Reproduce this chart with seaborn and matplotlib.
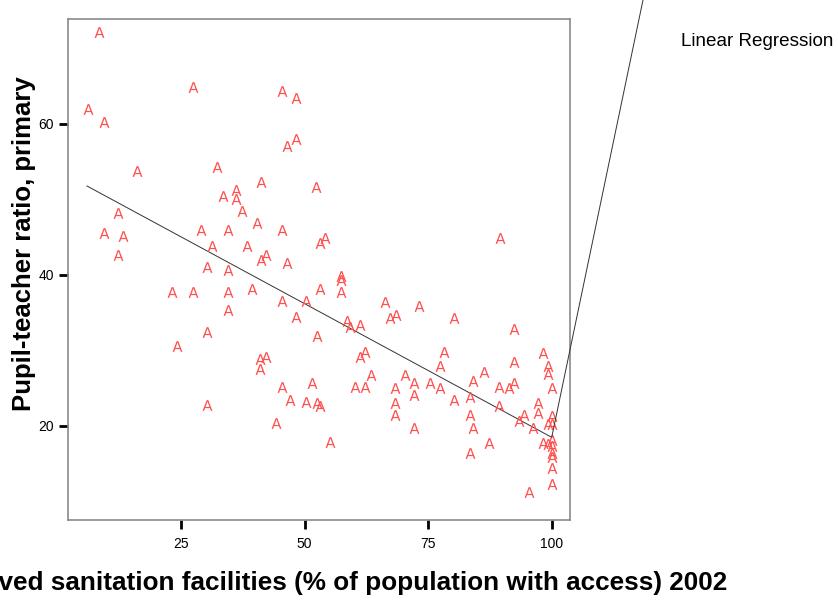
import matplotlib
matplotlib.use("Agg")
import matplotlib.pyplot as plt
import seaborn as sns
import pandas as pd

sanitation = [
    8.3, 6.2, 9.4, 27.4, 45.4, 48.2, 46.5, 48.2, 16.1, 32.3,
    41.1, 52.3, 36.2, 33.4, 36.2, 37.3, 12.2, 40.4, 9.4, 13.3,
    29.1, 34.5, 45.4, 31.3, 38.3, 53.1, 54.2, 12.2, 41.1, 42.2,
    46.5, 30.2, 34.5, 89.5, 23.1, 27.4, 34.5, 39.3, 53.1, 57.3,
    57.3, 57.3, 45.4, 50.3, 66.2, 73.2, 34.5, 48.2, 67.3, 68.4,
    80.3, 58.5, 59.2, 61.2, 30.2, 52.4, 92.3, 24.1, 62.3, 61.2,
    78.1, 77.4, 92.3, 98.3, 99.2, 99.2, 41.0, 42.2, 41.0, 63.4,
    70.4, 86.3, 45.4, 51.4, 60.1, 62.3, 68.3, 72.2, 75.3, 77.4,
    84.1, 89.4, 91.3, 92.3, 100.0, 47.1, 50.3, 52.4, 53.1, 30.2,
    68.3, 72.2, 80.3, 83.5, 44.2, 68.3, 83.5, 89.4, 94.3, 93.3,
    97.2, 97.2, 100.0, 99.3, 100.0, 96.2, 72.2, 84.1, 55.2, 87.4,
    83.5, 98.3, 99.3, 100.0, 100.0, 100.0, 100.0, 100.0, 100.0, 95.4,
]
pupil_teacher = [
    72.2, 62.0, 60.3, 64.9, 64.3, 63.5, 57.1, 58.0, 53.8, 54.3,
    52.3, 51.6, 51.2, 50.4, 50.0, 48.5, 48.2, 46.9, 45.6, 45.1,
    45.9, 45.9, 45.9, 43.8, 43.8, 44.2, 44.9, 42.6, 42.0, 42.6,
    41.6, 41.0, 40.7, 44.9, 37.8, 37.8, 37.8, 38.1, 38.2, 39.9,
    39.4, 37.8, 36.6, 36.5, 36.4, 35.9, 35.3, 34.5, 34.3, 34.7,
    34.3, 33.9, 33.1, 33.4, 32.5, 31.9, 32.9, 30.6, 29.8, 29.1,
    29.8, 28.0, 28.5, 29.7, 28.0, 26.9, 28.9, 29.1, 27.5, 26.7,
    26.8, 27.2, 25.1, 25.7, 25.1, 25.1, 25.0, 25.7, 25.7, 25.0,
    26.0, 25.1, 25.0, 25.7, 25.0, 23.5, 23.2, 23.1, 22.6, 22.8,
    23.1, 24.1, 23.4, 23.8, 20.4, 21.4, 21.4, 22.7, 21.4, 20.7,
    23.1, 21.7, 21.3, 20.3, 20.3, 19.7, 19.7, 19.7, 17.9, 17.8,
    16.4, 17.8, 17.6, 18.2, 17.4, 16.4, 15.9, 14.4, 12.3, 11.3,
]
# fitted linear regression line (end points, as drawn in the original)
fit_x = [5.9, 100.0]
fit_y = [51.8, 18.5]

x_ticks = [25, 50, 75, 100]
y_ticks = [20, 40, 60]
x_label = "Improved sanitation facilities (% of population with access) 2002"
y_label = "Pupil-teacher ratio, primary"
fit_label = "Linear Regression"

df = pd.DataFrame({"x": sanitation, "y": pupil_teacher})
fit_df = pd.DataFrame({"x": fit_x, "y": fit_y})

sns.set_style("white")
plt.rcParams["font.family"] = ["Liberation Sans", "DejaVu Sans"]

W, H = 838, 600
fig = plt.figure(figsize=(W / 100, H / 100), dpi=100)
ax = fig.add_axes([68 / W, 1 - 520 / H, (570 - 68) / W, (520 - 19) / H])

sns.scatterplot(data=df, x="x", y="y", marker=r"$\mathsf{A}$", s=60,
                color="#ff5050", linewidth=0, ax=ax, zorder=3)
sns.lineplot(data=fit_df, x="x", y="y", color="#333333", lw=0.7, ax=ax,
             zorder=2)

ax.set_xlim(2.1, 103.7)
ax.set_ylim(7.55, 73.9)
ax.set_xticks(x_ticks)
ax.set_yticks(y_ticks)
ax.tick_params(axis="both", which="major", bottom=True, left=True,
               direction="out", length=6.5, width=2.0, color="black",
               labelsize=10, labelcolor="black")
ax.tick_params(axis="x", pad=5.5)
ax.tick_params(axis="y", pad=3.5)
for sp in ax.spines.values():
    sp.set_color("#8a8a8a")
    sp.set_linewidth(1.2)

ax.set_xlabel(x_label, fontsize=18.8, fontweight="bold", color="black")
ax.xaxis.label.set_horizontalalignment("right")
ax.xaxis.set_label_coords((727 - 68) / (570 - 68), -0.102)
ax.set_ylabel(y_label, fontsize=18.5, fontweight="bold", color="black")
ax.yaxis.set_label_coords((36 - 68) / (570 - 68), (520 - 244) / (520 - 19))

# leader line from the end of the fit line up out of the figure
ax.annotate("", xy=(fit_x[-1], fit_y[-1]), xycoords="data",
            xytext=(643 / W, 1.0), textcoords="figure fraction",
            arrowprops=dict(arrowstyle="-", color="#333333", lw=0.7,
                            shrinkA=0, shrinkB=0),
            annotation_clip=False)
fig.text(681 / W, 1 - 41 / H, fit_label, fontsize=13.6, va="center",
         ha="left", color="black")

fig.savefig("out.png", dpi=100)
